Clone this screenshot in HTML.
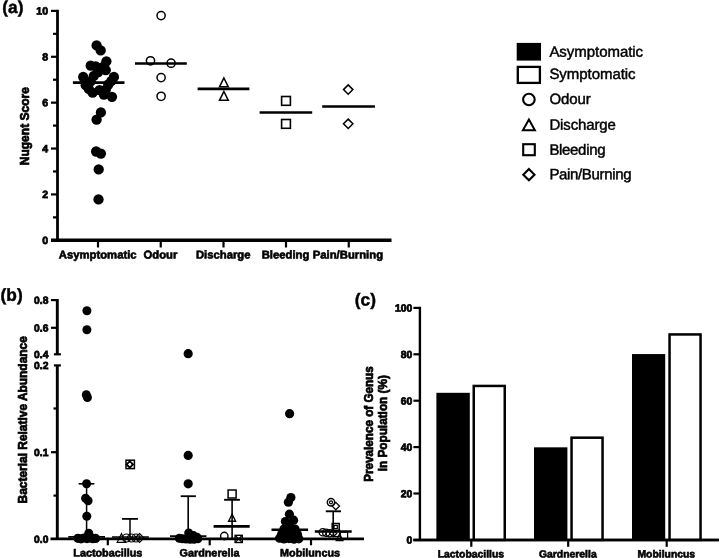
<!DOCTYPE html>
<html lang="en">
<head>
<meta charset="utf-8">
<title>Figure</title>
<style>
html,body{margin:0;padding:0;background:#fff;}
body{width:720px;height:558px;overflow:hidden;}
svg{display:block;filter:blur(0.4px);}
svg text{font-family:"Liberation Sans", sans-serif;fill:#000;}
</style>
</head>
<body>
<svg width="720" height="558" viewBox="0 0 720 558">
<rect x="0" y="0" width="720" height="558" fill="#fff"/>
<text x="2.3" y="13" font-size="17.3" font-weight="bold" text-anchor="start" transform="rotate(0.03 2.3 13)" stroke="#000" stroke-width="0.45">(a)</text>
<line x1="57.5" y1="9.8" x2="57.5" y2="240.3" stroke="#000" stroke-width="2.8" />
<line x1="51" y1="240.3" x2="391.5" y2="240.3" stroke="#000" stroke-width="3.5" />
<line x1="53" y1="217.36" x2="57.5" y2="217.36" stroke="#000" stroke-width="2.2" />
<line x1="51" y1="194.42" x2="57.5" y2="194.42" stroke="#000" stroke-width="2.2" />
<line x1="53" y1="171.48" x2="57.5" y2="171.48" stroke="#000" stroke-width="2.2" />
<line x1="51" y1="148.54" x2="57.5" y2="148.54" stroke="#000" stroke-width="2.2" />
<line x1="53" y1="125.6" x2="57.5" y2="125.6" stroke="#000" stroke-width="2.2" />
<line x1="51" y1="102.66" x2="57.5" y2="102.66" stroke="#000" stroke-width="2.2" />
<line x1="53" y1="79.72" x2="57.5" y2="79.72" stroke="#000" stroke-width="2.2" />
<line x1="51" y1="56.78" x2="57.5" y2="56.78" stroke="#000" stroke-width="2.2" />
<line x1="53" y1="33.84" x2="57.5" y2="33.84" stroke="#000" stroke-width="2.2" />
<line x1="51" y1="10.9" x2="57.5" y2="10.9" stroke="#000" stroke-width="2.2" />
<text x="48.0" y="244.0" font-size="10.5" font-weight="bold" text-anchor="end" transform="rotate(0.03 48.0 244.0)" stroke="#000" stroke-width="0.75">0</text>
<text x="48.0" y="198.11999999999998" font-size="10.5" font-weight="bold" text-anchor="end" transform="rotate(0.03 48.0 198.11999999999998)" stroke="#000" stroke-width="0.75">2</text>
<text x="48.0" y="152.23999999999998" font-size="10.5" font-weight="bold" text-anchor="end" transform="rotate(0.03 48.0 152.23999999999998)" stroke="#000" stroke-width="0.75">4</text>
<text x="48.0" y="106.36" font-size="10.5" font-weight="bold" text-anchor="end" transform="rotate(0.03 48.0 106.36)" stroke="#000" stroke-width="0.75">6</text>
<text x="48.0" y="60.480000000000004" font-size="10.5" font-weight="bold" text-anchor="end" transform="rotate(0.03 48.0 60.480000000000004)" stroke="#000" stroke-width="0.75">8</text>
<text x="48.0" y="14.600000000000001" font-size="10.5" font-weight="bold" text-anchor="end" transform="rotate(0.03 48.0 14.600000000000001)" stroke="#000" stroke-width="0.75">10</text>
<text x="28.8" y="126.2" font-size="12" font-weight="bold" text-anchor="middle" transform="rotate(-90 28.8 126.2)" stroke="#000" stroke-width="0.7">Nugent Score</text>
<line x1="98" y1="240.3" x2="98" y2="247.5" stroke="#000" stroke-width="2.2" />
<text x="97.7" y="258.6" font-size="11.3" font-weight="bold" text-anchor="middle" transform="rotate(0.03 97.7 258.6)" stroke="#000" stroke-width="0.6">Asymptomatic</text>
<line x1="160.75" y1="240.3" x2="160.75" y2="247.5" stroke="#000" stroke-width="2.2" />
<text x="160.4" y="258.6" font-size="11.3" font-weight="bold" text-anchor="middle" transform="rotate(0.03 160.4 258.6)" stroke="#000" stroke-width="0.6">Odour</text>
<line x1="223.5" y1="240.3" x2="223.5" y2="247.5" stroke="#000" stroke-width="2.2" />
<text x="223.2" y="258.6" font-size="11.3" font-weight="bold" text-anchor="middle" transform="rotate(0.03 223.2 258.6)" stroke="#000" stroke-width="0.6">Discharge</text>
<line x1="286" y1="240.3" x2="286" y2="247.5" stroke="#000" stroke-width="2.2" />
<text x="285.5" y="258.6" font-size="11.3" font-weight="bold" text-anchor="middle" transform="rotate(0.03 285.5 258.6)" stroke="#000" stroke-width="0.6">Bleeding</text>
<line x1="348.75" y1="240.3" x2="348.75" y2="247.5" stroke="#000" stroke-width="2.2" />
<text x="347.9" y="258.6" font-size="11.3" font-weight="bold" text-anchor="middle" transform="rotate(0.03 347.9 258.6)" stroke="#000" stroke-width="0.6">Pain/Burning</text>
<circle cx="96.6" cy="45.4" r="5.15" fill="#000"/>
<circle cx="100.7" cy="50.4" r="5.15" fill="#000"/>
<circle cx="106.4" cy="61.300000000000004" r="5.15" fill="#000"/>
<circle cx="90.7" cy="65.69999999999999" r="5.15" fill="#000"/>
<circle cx="95.7" cy="66.3" r="5.15" fill="#000"/>
<circle cx="103.2" cy="67.0" r="5.15" fill="#000"/>
<circle cx="105.8" cy="70.1" r="5.15" fill="#000"/>
<circle cx="98.2" cy="72.0" r="5.15" fill="#000"/>
<circle cx="83.2" cy="77.0" r="5.15" fill="#000"/>
<circle cx="113.9" cy="77.0" r="5.15" fill="#000"/>
<circle cx="93.8" cy="75.8" r="5.15" fill="#000"/>
<circle cx="85.1" cy="80.8" r="5.15" fill="#000"/>
<circle cx="111.4" cy="80.8" r="5.15" fill="#000"/>
<circle cx="90.7" cy="81.39999999999999" r="5.15" fill="#000"/>
<circle cx="85.7" cy="85.19999999999999" r="5.15" fill="#000"/>
<circle cx="108.3" cy="84.5" r="5.15" fill="#000"/>
<circle cx="88.8" cy="88.89999999999999" r="5.15" fill="#000"/>
<circle cx="92.6" cy="92.69999999999999" r="5.15" fill="#000"/>
<circle cx="99.5" cy="90.19999999999999" r="5.15" fill="#000"/>
<circle cx="103.9" cy="94.6" r="5.15" fill="#000"/>
<circle cx="112" cy="96.8" r="5.15" fill="#000"/>
<circle cx="105.8" cy="89.6" r="5.15" fill="#000"/>
<circle cx="100.9" cy="112.39999999999999" r="5.15" fill="#000"/>
<circle cx="96.6" cy="119.69999999999999" r="5.15" fill="#000"/>
<circle cx="96.1" cy="151.5" r="5.15" fill="#000"/>
<circle cx="100.9" cy="153.6" r="5.15" fill="#000"/>
<circle cx="98.7" cy="169.4" r="5.15" fill="#000"/>
<circle cx="98.5" cy="199.4" r="5.15" fill="#000"/>
<line x1="72.9" y1="82.6" x2="124.5" y2="82.6" stroke="#000" stroke-width="2.6" />
<circle cx="161.1" cy="15.6" r="4.1" fill="none" stroke="#000" stroke-width="1.5"/>
<circle cx="150.5" cy="60.8" r="4.1" fill="none" stroke="#000" stroke-width="1.5"/>
<circle cx="171.1" cy="63.2" r="4.1" fill="none" stroke="#000" stroke-width="1.5"/>
<circle cx="161.1" cy="77.6" r="4.1" fill="none" stroke="#000" stroke-width="1.5"/>
<circle cx="161.1" cy="96.3" r="4.1" fill="none" stroke="#000" stroke-width="1.5"/>
<line x1="135" y1="63.5" x2="186.8" y2="63.5" stroke="#000" stroke-width="2.6" />
<path d="M223.9,78.0 L228.3,86.80000000000001 L219.5,86.80000000000001 Z" fill="none" stroke="#000" stroke-width="1.5" stroke-linejoin="miter"/>
<path d="M223.9,91.5 L228.3,100.30000000000001 L219.5,100.30000000000001 Z" fill="none" stroke="#000" stroke-width="1.5" stroke-linejoin="miter"/>
<line x1="197.6" y1="88.9" x2="249.4" y2="88.9" stroke="#000" stroke-width="2.6" />
<rect x="281.6" y="96.5" width="8.8" height="8.8" fill="none" stroke="#000" stroke-width="1.6"/>
<rect x="281.6" y="119.5" width="8.8" height="8.8" fill="none" stroke="#000" stroke-width="1.6"/>
<line x1="259.6" y1="112.5" x2="312.2" y2="112.5" stroke="#000" stroke-width="2.6" />
<path d="M348.2,84.89999999999999 L352.9,89.6 L348.2,94.3 L343.5,89.6 Z" fill="none" stroke="#000" stroke-width="1.5"/>
<path d="M348.2,119.1 L352.9,123.8 L348.2,128.5 L343.5,123.8 Z" fill="none" stroke="#000" stroke-width="1.5"/>
<line x1="322.2" y1="106.5" x2="374.9" y2="106.5" stroke="#000" stroke-width="2.6" />
<rect x="516.7" y="42.9" width="24.3" height="17.7" fill="#000"/>
<rect x="517.8" y="66.9" width="22.1" height="16.0" fill="#fff" stroke="#000" stroke-width="2.3"/>
<circle cx="528.9" cy="99.5" r="5.8" fill="none" stroke="#000" stroke-width="2.1"/>
<path d="M528.9,119.6 L534.9,130.2 L522.9,130.2 Z" fill="none" stroke="#000" stroke-width="2.0"/>
<rect x="523.2" y="144.2" width="11.6" height="11.0" fill="none" stroke="#000" stroke-width="2.1"/>
<path d="M528.9,169.1 L534.5,174.7 L528.9,180.29999999999998 L523.3,174.7 Z" fill="none" stroke="#000" stroke-width="2.1"/>
<text x="549.4" y="56.8" transform="rotate(0.03 549.4 56.8)" font-size="15" textLength="93.7" lengthAdjust="spacing" stroke="#000" stroke-width="0.45">Asymptomatic</text>
<text x="549.4" y="78.9" transform="rotate(0.03 549.4 78.9)" font-size="15" textLength="86.2" lengthAdjust="spacing" stroke="#000" stroke-width="0.45">Symptomatic</text>
<text x="549.4" y="104" transform="rotate(0.03 549.4 104)" font-size="15" textLength="41.4" lengthAdjust="spacing" stroke="#000" stroke-width="0.45">Odour</text>
<text x="549.4" y="129.7" transform="rotate(0.03 549.4 129.7)" font-size="15" textLength="66.5" lengthAdjust="spacing" stroke="#000" stroke-width="0.45">Discharge</text>
<text x="549.4" y="154.7" transform="rotate(0.03 549.4 154.7)" font-size="15" textLength="56.1" lengthAdjust="spacing" stroke="#000" stroke-width="0.45">Bleeding</text>
<text x="549.4" y="179.3" transform="rotate(0.03 549.4 179.3)" font-size="15" textLength="82.1" lengthAdjust="spacing" stroke="#000" stroke-width="0.45">Pain/Burning</text>
<text x="0.6" y="300.8" font-size="17.3" font-weight="bold" text-anchor="start" transform="rotate(0.03 0.6 300.8)" stroke="#000" stroke-width="0.45">(b)</text>
<line x1="57.3" y1="299.0" x2="57.3" y2="354.3" stroke="#000" stroke-width="2.9" />
<line x1="57.3" y1="365.4" x2="57.3" y2="539.0" stroke="#000" stroke-width="2.9" />
<line x1="51" y1="300.1" x2="57.3" y2="300.1" stroke="#000" stroke-width="2.2" />
<line x1="51" y1="327.8" x2="57.3" y2="327.8" stroke="#000" stroke-width="2.2" />
<line x1="53.9" y1="354.3" x2="60.9" y2="354.3" stroke="#000" stroke-width="2.2" />
<line x1="53.9" y1="365.4" x2="60.9" y2="365.4" stroke="#000" stroke-width="2.2" />
<line x1="53.5" y1="408.5" x2="57.3" y2="408.5" stroke="#000" stroke-width="2.2" />
<line x1="51" y1="452.2" x2="57.3" y2="452.2" stroke="#000" stroke-width="2.2" />
<line x1="53.5" y1="495.6" x2="57.3" y2="495.6" stroke="#000" stroke-width="2.2" />
<line x1="50.5" y1="538.8" x2="364" y2="538.8" stroke="#000" stroke-width="2.7" />
<text x="48.4" y="303.8" font-size="10.3" font-weight="bold" text-anchor="end" transform="rotate(0.03 48.4 303.8)" stroke="#000" stroke-width="0.75">0.8</text>
<text x="48.4" y="331.5" font-size="10.3" font-weight="bold" text-anchor="end" transform="rotate(0.03 48.4 331.5)" stroke="#000" stroke-width="0.75">0.6</text>
<text x="48.4" y="358.0" font-size="10.3" font-weight="bold" text-anchor="end" transform="rotate(0.03 48.4 358.0)" stroke="#000" stroke-width="0.75">0.4</text>
<text x="48.4" y="369.09999999999997" font-size="10.3" font-weight="bold" text-anchor="end" transform="rotate(0.03 48.4 369.09999999999997)" stroke="#000" stroke-width="0.75">0.2</text>
<text x="48.4" y="455.9" font-size="10.3" font-weight="bold" text-anchor="end" transform="rotate(0.03 48.4 455.9)" stroke="#000" stroke-width="0.75">0.1</text>
<text x="48.4" y="542.7" font-size="10.3" font-weight="bold" text-anchor="end" transform="rotate(0.03 48.4 542.7)" stroke="#000" stroke-width="0.75">0.0</text>
<text x="27" y="419.8" font-size="12" font-weight="bold" text-anchor="middle" transform="rotate(-90 27 419.8)" textLength="167.2" lengthAdjust="spacingAndGlyphs" stroke="#000" stroke-width="0.7">Bacterial Relative Abundance</text>
<line x1="107.8" y1="539.0" x2="107.8" y2="545.3" stroke="#000" stroke-width="2.2" />
<text x="107.8" y="556.5" font-size="10.8" font-weight="bold" text-anchor="middle" transform="rotate(0.03 107.8 556.5)" stroke="#000" stroke-width="0.6">Lactobacillus</text>
<line x1="209.7" y1="539.0" x2="209.7" y2="545.3" stroke="#000" stroke-width="2.2" />
<text x="209.6" y="556.5" font-size="10.8" font-weight="bold" text-anchor="middle" transform="rotate(0.03 209.6 556.5)" stroke="#000" stroke-width="0.6">Gardnerella</text>
<line x1="311" y1="539.0" x2="311" y2="545.3" stroke="#000" stroke-width="2.2" />
<text x="310.1" y="556.5" font-size="10.8" font-weight="bold" text-anchor="middle" transform="rotate(0.03 310.1 556.5)" stroke="#000" stroke-width="0.6">Mobiluncus</text>
<circle cx="86.9" cy="310.8" r="4.5" fill="#000"/>
<circle cx="86.9" cy="329.8" r="4.5" fill="#000"/>
<circle cx="86.3" cy="394.8" r="4.5" fill="#000"/>
<circle cx="87.4" cy="397.5" r="4.5" fill="#000"/>
<circle cx="86.6" cy="483.8" r="4.5" fill="#000"/>
<circle cx="85.6" cy="498.2" r="4.5" fill="#000"/>
<circle cx="88.1" cy="500.7" r="4.5" fill="#000"/>
<circle cx="86.8" cy="516.3" r="4.5" fill="#000"/>
<circle cx="88.8" cy="533.2" r="4.5" fill="#000"/>
<circle cx="77.9" cy="538.3" r="4.6" fill="#000"/>
<circle cx="81" cy="538.8" r="4.6" fill="#000"/>
<circle cx="84" cy="538.0" r="4.6" fill="#000"/>
<circle cx="87" cy="538.6" r="4.6" fill="#000"/>
<circle cx="90" cy="538.0" r="4.6" fill="#000"/>
<circle cx="92.8" cy="538.7" r="4.6" fill="#000"/>
<circle cx="95.6" cy="538.4" r="4.6" fill="#000"/>
<line x1="86.6" y1="483.8" x2="86.6" y2="537" stroke="#000" stroke-width="1.5" />
<line x1="78.7" y1="483.8" x2="94.4" y2="483.8" stroke="#000" stroke-width="1.6" />
<line x1="68.3" y1="536.8" x2="105" y2="536.8" stroke="#000" stroke-width="1.7" />
<line x1="130" y1="518.9" x2="130" y2="537" stroke="#000" stroke-width="1.5" />
<line x1="122" y1="518.9" x2="138" y2="518.9" stroke="#000" stroke-width="1.8" />
<line x1="112" y1="537" x2="148.8" y2="537" stroke="#000" stroke-width="1.6" />
<rect x="125.99999999999999" y="460.2" width="8.4" height="8.4" fill="none" stroke="#000" stroke-width="1.5"/>
<path d="M129.8,461.09999999999997 L133.10000000000002,464.4 L129.8,467.7 L126.50000000000001,464.4 Z" fill="none" stroke="#000" stroke-width="1.7"/>
<circle cx="129.8" cy="464.4" r="2.2" fill="none" stroke="#000" stroke-width="1.0"/>
<path d="M121.5,533.7 L125.8,542.3 L117.2,542.3 Z" fill="none" stroke="#000" stroke-width="1.2" stroke-linejoin="miter"/>
<circle cx="126.5" cy="538" r="4.0" fill="none" stroke="#000" stroke-width="1.2"/>
<circle cx="131.5" cy="538" r="4.0" fill="none" stroke="#000" stroke-width="1.2"/>
<circle cx="136" cy="538" r="4.0" fill="none" stroke="#000" stroke-width="1.2"/>
<path d="M139.5,533.5 L144.0,538 L139.5,542.5 L135.0,538 Z" fill="none" stroke="#000" stroke-width="1.2"/>
<circle cx="188.2" cy="353.7" r="4.6" fill="#000"/>
<circle cx="188.2" cy="455.4" r="4.6" fill="#000"/>
<circle cx="188.2" cy="483.8" r="4.6" fill="#000"/>
<circle cx="188.7" cy="532.9" r="4.5" fill="#000"/>
<circle cx="193.5" cy="535.6" r="4.5" fill="#000"/>
<circle cx="197" cy="537.2" r="4.5" fill="#000"/>
<circle cx="179.3" cy="538.2" r="4.5" fill="#000"/>
<circle cx="182.5" cy="538.8" r="4.5" fill="#000"/>
<circle cx="186" cy="539.0" r="4.5" fill="#000"/>
<circle cx="190" cy="539.2" r="4.5" fill="#000"/>
<circle cx="194" cy="539.2" r="4.5" fill="#000"/>
<circle cx="197.8" cy="538.8" r="4.5" fill="#000"/>
<line x1="188.2" y1="496.2" x2="188.2" y2="536" stroke="#000" stroke-width="1.6" />
<line x1="180.7" y1="496.2" x2="195.9" y2="496.2" stroke="#000" stroke-width="1.8" />
<line x1="170" y1="536.2" x2="206.4" y2="536.2" stroke="#000" stroke-width="1.8" />
<line x1="232.1" y1="499.8" x2="232.1" y2="539" stroke="#000" stroke-width="1.6" />
<line x1="224.1" y1="499.8" x2="239.9" y2="499.8" stroke="#000" stroke-width="1.9" />
<line x1="213.6" y1="526.4" x2="249.7" y2="526.4" stroke="#000" stroke-width="2.6" />
<rect x="228.1" y="490.0" width="8.0" height="8.0" fill="none" stroke="#000" stroke-width="1.5"/>
<path d="M232.1,514.2 L235.6,521.2 L228.6,521.2 Z" fill="none" stroke="#000" stroke-width="1.4" stroke-linejoin="miter"/>
<circle cx="224.3" cy="536.0" r="3.7" fill="none" stroke="#000" stroke-width="1.4"/>
<rect x="235.1" y="535.3" width="7.2" height="7.2" fill="none" stroke="#000" stroke-width="1.4"/>
<path d="M235.8,536 L241.6,541.8 M241.6,536 L235.8,541.8" stroke="#000" stroke-width="1.2"/>
<circle cx="289.6" cy="413.7" r="4.6" fill="#000"/>
<circle cx="290.9" cy="497.5" r="4.6" fill="#000"/>
<circle cx="288.4" cy="502.2" r="4.6" fill="#000"/>
<circle cx="289.4" cy="514.2" r="4.6" fill="#000"/>
<circle cx="285.4" cy="521.6" r="4.6" fill="#000"/>
<circle cx="293.6" cy="520.2" r="4.6" fill="#000"/>
<circle cx="289.5" cy="525" r="4.6" fill="#000"/>
<circle cx="284" cy="529" r="4.6" fill="#000"/>
<circle cx="295" cy="529" r="4.6" fill="#000"/>
<circle cx="289.5" cy="532" r="4.6" fill="#000"/>
<circle cx="281.5" cy="534.5" r="4.6" fill="#000"/>
<circle cx="297.5" cy="534.5" r="4.6" fill="#000"/>
<circle cx="279.6" cy="538.2" r="4.6" fill="#000"/>
<circle cx="284" cy="539" r="4.6" fill="#000"/>
<circle cx="289" cy="538.6" r="4.6" fill="#000"/>
<circle cx="294" cy="539.2" r="4.6" fill="#000"/>
<circle cx="298.8" cy="538.8" r="4.6" fill="#000"/>
<line x1="271.5" y1="529.7" x2="308.1" y2="529.7" stroke="#000" stroke-width="2.4" />
<line x1="333.2" y1="511.3" x2="333.2" y2="531" stroke="#000" stroke-width="1.6" />
<line x1="325.8" y1="511.3" x2="341" y2="511.3" stroke="#000" stroke-width="1.9" />
<line x1="314.8" y1="531.4" x2="351.7" y2="531.4" stroke="#000" stroke-width="2.5" />
<circle cx="331" cy="502.3" r="3.7" fill="none" stroke="#000" stroke-width="1.5"/>
<circle cx="331" cy="502.3" r="1.5" fill="none" stroke="#000" stroke-width="1.2"/>
<path d="M335.8,502.40000000000003 L339.5,506.1 L335.8,509.8 L332.1,506.1 Z" fill="none" stroke="#000" stroke-width="1.3"/>
<rect x="332.2" y="523.5" width="7.0" height="7.0" fill="none" stroke="#000" stroke-width="1.5"/>
<rect x="334.1" y="525.4" width="3.2" height="3.2" fill="none" stroke="#000" stroke-width="1.2"/>
<circle cx="322.7" cy="532.2" r="3.6" fill="none" stroke="#000" stroke-width="1.3"/>
<circle cx="326.2" cy="532.8" r="3.6" fill="none" stroke="#000" stroke-width="1.3"/>
<circle cx="329.7" cy="533.2" r="3.6" fill="none" stroke="#000" stroke-width="1.3"/>
<path d="M333.2,529.9 L336.7,533.4 L333.2,536.9 L329.7,533.4 Z" fill="none" stroke="#000" stroke-width="1.2"/>
<rect x="333.7" y="530.3" width="6.2" height="6.2" fill="none" stroke="#000" stroke-width="1.2"/>
<path d="M339.6,533.8000000000001 L343.0,540.6 L336.20000000000005,540.6 Z" fill="none" stroke="#000" stroke-width="1.2" stroke-linejoin="miter"/>
<rect x="340.4" y="532.0" width="7.2" height="7.2" fill="none" stroke="#000" stroke-width="1.3"/>
<text x="354.8" y="305.5" font-size="17.3" font-weight="bold" text-anchor="start" transform="rotate(0.03 354.8 305.5)" stroke="#000" stroke-width="0.45">(c)</text>
<line x1="419.9" y1="306.79999999999995" x2="419.9" y2="539.9" stroke="#000" stroke-width="2.4" />
<line x1="413.4" y1="540.0" x2="718.8" y2="540.0" stroke="#000" stroke-width="2.6" />
<line x1="413.4" y1="493.5" x2="419.9" y2="493.5" stroke="#000" stroke-width="2.2" />
<line x1="413.4" y1="447.1" x2="419.9" y2="447.1" stroke="#000" stroke-width="2.2" />
<line x1="413.4" y1="400.7" x2="419.9" y2="400.7" stroke="#000" stroke-width="2.2" />
<line x1="413.4" y1="354.3" x2="419.9" y2="354.3" stroke="#000" stroke-width="2.2" />
<line x1="413.4" y1="307.9" x2="419.9" y2="307.9" stroke="#000" stroke-width="2.2" />
<text x="412.2" y="543.6" font-size="10.3" font-weight="bold" text-anchor="end" transform="rotate(0.03 412.2 543.6)" stroke="#000" stroke-width="0.75">0</text>
<text x="412.2" y="497.2" font-size="10.3" font-weight="bold" text-anchor="end" transform="rotate(0.03 412.2 497.2)" stroke="#000" stroke-width="0.75">20</text>
<text x="412.2" y="450.8" font-size="10.3" font-weight="bold" text-anchor="end" transform="rotate(0.03 412.2 450.8)" stroke="#000" stroke-width="0.75">40</text>
<text x="412.2" y="404.4" font-size="10.3" font-weight="bold" text-anchor="end" transform="rotate(0.03 412.2 404.4)" stroke="#000" stroke-width="0.75">60</text>
<text x="412.2" y="358.0" font-size="10.3" font-weight="bold" text-anchor="end" transform="rotate(0.03 412.2 358.0)" stroke="#000" stroke-width="0.75">80</text>
<text x="412.2" y="311.59999999999997" font-size="10.3" font-weight="bold" text-anchor="end" transform="rotate(0.03 412.2 311.59999999999997)" stroke="#000" stroke-width="0.75">100</text>
<text x="372.9" y="424" font-size="12" font-weight="bold" text-anchor="middle" transform="rotate(-90 372.9 424)" textLength="115.5" lengthAdjust="spacingAndGlyphs" stroke="#000" stroke-width="0.7">Prevalence of Genus</text>
<text x="387.0" y="423.2" font-size="12" font-weight="bold" text-anchor="middle" transform="rotate(-90 387.0 423.2)" textLength="96.2" lengthAdjust="spacingAndGlyphs" stroke="#000" stroke-width="0.7">in Population (%)</text>
<rect x="436.4" y="392.81" width="33.4" height="147.09" fill="#000"/>
<rect x="473.75" y="385.94" width="31.0" height="153.96" fill="#fff" stroke="#000" stroke-width="2.5"/>
<line x1="471.3" y1="539.9" x2="471.3" y2="546.8" stroke="#000" stroke-width="2.2" />
<text x="470.90000000000003" y="557.5" font-size="10.4" font-weight="bold" text-anchor="middle" transform="rotate(0.03 470.90000000000003 557.5)" stroke="#000" stroke-width="0.6">Lactobacillus</text>
<rect x="534.0" y="447.33" width="33.4" height="92.57" fill="#000"/>
<rect x="571.55" y="437.68" width="31.0" height="102.22" fill="#fff" stroke="#000" stroke-width="2.5"/>
<line x1="568.2" y1="539.9" x2="568.2" y2="546.8" stroke="#000" stroke-width="2.2" />
<text x="567.8000000000001" y="557.5" font-size="10.4" font-weight="bold" text-anchor="middle" transform="rotate(0.03 567.8000000000001 557.5)" stroke="#000" stroke-width="0.6">Gardnerella</text>
<rect x="632.0" y="354.07" width="33.2" height="185.83" fill="#000"/>
<rect x="669.55" y="334.44" width="31.0" height="205.46" fill="#fff" stroke="#000" stroke-width="2.5"/>
<line x1="666.7" y1="539.9" x2="666.7" y2="546.8" stroke="#000" stroke-width="2.2" />
<text x="666.3000000000001" y="557.5" font-size="10.4" font-weight="bold" text-anchor="middle" transform="rotate(0.03 666.3000000000001 557.5)" stroke="#000" stroke-width="0.6">Mobiluncus</text>
<line x1="413.4" y1="540.0" x2="718.8" y2="540.0" stroke="#000" stroke-width="2.6" />
</svg>
</body>
</html>
